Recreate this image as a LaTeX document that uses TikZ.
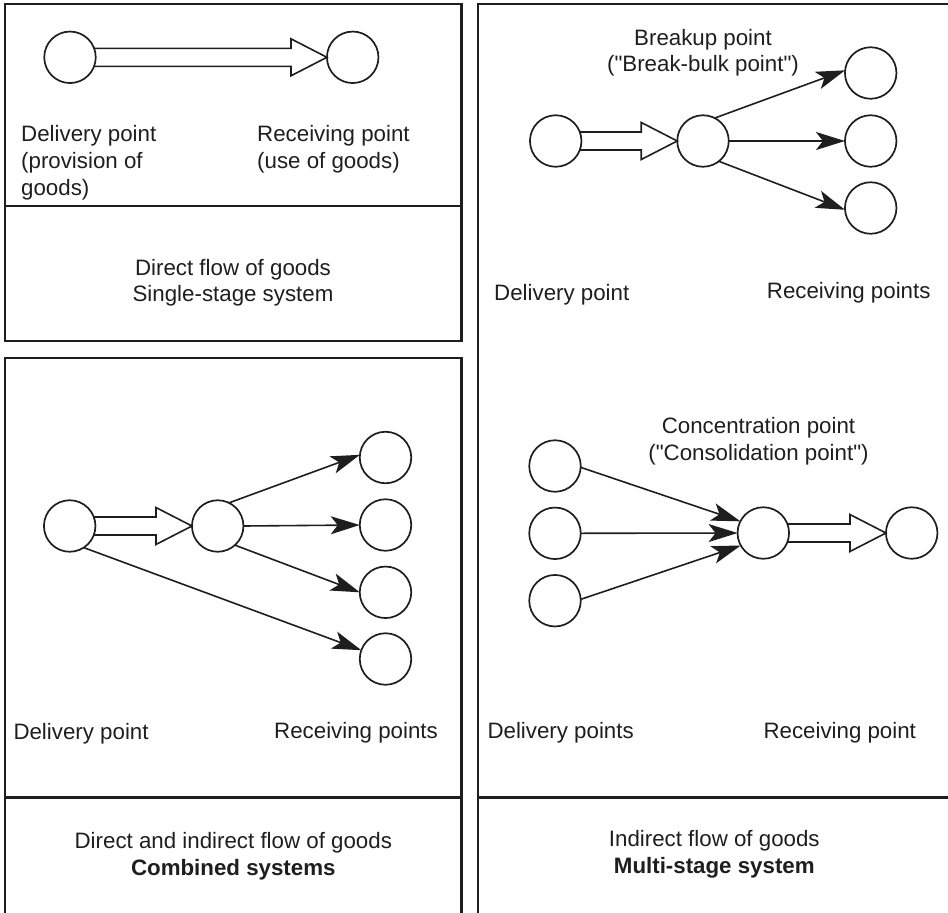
\documentclass[tikz,border=0pt]{standalone}
\usepackage{fontspec}
\setmainfont{Liberation Sans}
\usetikzlibrary{arrows.meta,calc}
\definecolor{ink}{HTML}{1E1E1E}

% broad hollow arrow between two horizontally aligned places
\newcommand\bulkflow[2]{%
  \draw[bulk] ($(#1.center)+(24.1,-9)$) -- ($(#2.west)+(-36,-9)$)
    -- ($(#2.west)+(-36,-18.5)$) -- (#2.west) -- ($(#2.west)+(-36,18.5)$)
    -- ($(#2.west)+(-36,9)$) -- ($(#1.center)+(24.1,9)$);}

\begin{document}
\begin{tikzpicture}[x=1pt,y=-1pt,
  place/.style={circle,draw=ink,line width=1.7pt,minimum size=51.5pt,inner sep=0pt,outer sep=0pt},
  frame/.style={draw=ink,line width=2.2pt},
  flow/.style={draw=ink,line width=1.6pt,-{Stealth[length=29pt,width=18pt,inset=7pt]}},
  bulk/.style={draw=ink,line width=1.6pt,line join=miter},
  lbl/.style={text=ink,font=\fontsize{22.3}{26.7}\selectfont,inner sep=0pt,anchor=base west,align=left},
  caption/.style={text=ink,font=\fontsize{22.3}{26.7}\selectfont,inner sep=0pt,anchor=base,align=center}]
\useasboundingbox (0,0) rectangle (948,913);

% panel frames
\draw[frame] (5,4) rectangle (461.5,341);
\draw[frame] (5,206) -- (461.5,206);
\draw[frame] (5,920) -- (5,358) -- (461.5,358) -- (461.5,920);
\draw[frame] (5,797.5) -- (461.5,797.5);
\draw[frame] (478,920) -- (478,4) -- (960,4);
\draw[frame] (478,797.5) -- (960,797.5);

% single-stage system (label nodes are placed by the baseline of their last line)
\node[place] (s1) at (70,57.3) {};
\node[place] (s2) at (352.7,57.3) {};
\bulkflow{s1}{s2}
\node[lbl] (s1t) at (21,195.1) {Delivery point\\(provision of\\goods)};
\node[lbl] (s2t) at (257,168.4) {Receiving point\\(use of goods)};
\node[caption] (s0t) at (233,301.7) {Direct flow of goods\\Single-stage system};

% multi-stage system: break-bulk
\node[place] (b0) at (555.7,141) {};
\node[place] (bh) at (703,141) {};
\node[place] (b1) at (870.7,73) {};
\node[place] (b2) at (870.7,141) {};
\node[place] (b3) at (870.7,208) {};
\bulkflow{b0}{bh}
\draw[flow] (bh.63) -- (b1.174);
\draw[flow] (bh.east) -- (b2.west);
\draw[flow] (bh.-52) -- (b3.184);
\node[caption] (bht) at (703,71.7) {Breakup point\\(\textquotedbl Break-bulk point\textquotedbl)};
\node[lbl] (b0t) at (494,300) {Delivery point};
\node[lbl] (b1t) at (766.7,298) {Receiving points};

% combined systems
\node[place] (c0) at (69.7,526) {};
\node[place] (ch) at (217.7,526) {};
\node[place] (c1) at (385.5,457.5) {};
\node[place] (c2) at (385.5,525) {};
\node[place] (c3) at (385.5,592.3) {};
\node[place] (c4) at (385.5,659) {};
\bulkflow{c0}{ch}
\draw[flow] (ch.64) -- (c1.174);
\draw[flow] (ch.east) -- (c2.west);
\draw[flow] (ch.-48) -- (c3.west);
\draw[flow] (c0.-57) -- (c4.160);
\node[lbl] (c0t) at (13.3,739.3) {Delivery point};
\node[lbl] (c1t) at (274,738) {Receiving points};
\node[caption] (cst) at (233.3,875) {Direct and indirect flow of goods\\\textbf{Combined systems}};

% multi-stage system: consolidation
\node[place] (k1) at (555,466) {};
\node[place] (k2) at (555,533.3) {};
\node[place] (k3) at (555,600.7) {};
\node[place] (kh) at (763.3,533) {};
\node[place] (k0) at (911.7,533) {};
\draw[flow] (k1.-3) -- (kh.153);
\draw[flow] (k2.east) -- (kh.west);
\draw[flow] (k3.3) -- (kh.209);
\bulkflow{kh}{k0}
\node[caption] (kht) at (758.5,460) {Concentration point\\(\textquotedbl Consolidation point\textquotedbl)};
\node[lbl] (k1t) at (487.3,738.3) {Delivery points};
\node[lbl] (k0t) at (763.3,738.3) {Receiving point};
\node[caption] (mst) at (714.3,873.4) {Indirect flow of goods\\\textbf{Multi-stage system}};
\end{tikzpicture}
\end{document}
